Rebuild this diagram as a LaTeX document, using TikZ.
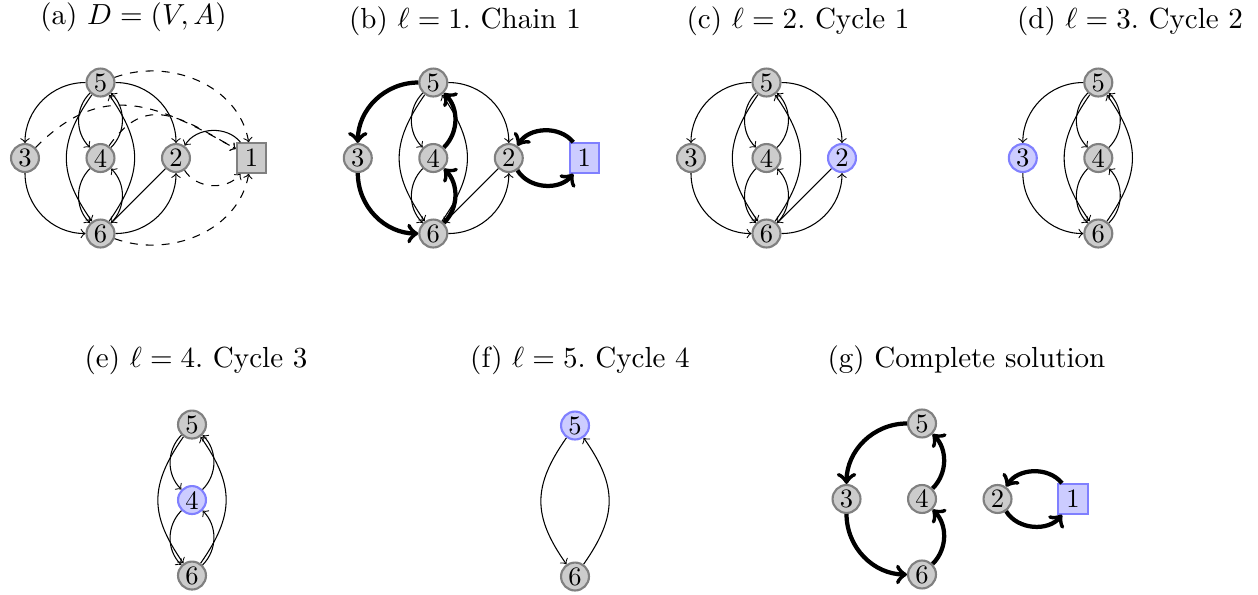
\documentclass[tikz,border=0pt]{standalone}
\usepackage{tikz}
\usetikzlibrary{positioning}
\definecolor{vgray}{RGB}{204,204,204}
\definecolor{vline}{RGB}{128,128,128}
\definecolor{pick}{RGB}{204,204,255}
\definecolor{pickline}{RGB}{128,128,255}

\begin{document}
\begin{tikzpicture}[
    node distance=1cm, on grid,
    vtx/.style={circle, draw=vline, fill=vgray, thick, minimum size=0.37cm, inner sep=0pt},
    sel/.style={vtx, draw=pickline, fill=pick},
    alt/.style={rectangle, draw=vline, fill=vgray, thick, minimum size=0.39cm, inner sep=0pt},
    altsel/.style={alt, draw=pickline, fill=pick},
    ar/.style={->},
    dar/.style={->, dashed},
    cyc/.style={->, ultra thick},
    wideL/.style={out=-125, in=125, looseness=1.2},
    wideR/.style={out=55, in=-55, looseness=1.2},
    subttl/.style={anchor=base, font=\fontsize{10.95}{13.6}\selectfont\frenchspacing}
]
\useasboundingbox (0,0) rectangle (16.662,-7.868);

% (a) the full graph
\node[subttl] (ta) at (1.768,-0.331) {(a) $D=(V,A)$};
\node[vtx] (a4) at (1.331,-2.093) {4};
\node[vtx, above=of a4] (a5) {5};
\node[vtx, below=of a4] (a6) {6};
\node[vtx, left=of a4] (a3) {3};
\node[vtx, right=of a4] (a2) {2};
\node[alt, right=of a2] (a1) {1};
\draw[ar] (a5) to[out=180,in=90] (a3);
\draw[ar] (a3) to[out=-90,in=180] (a6);
\draw[ar] (a5) to[out=0,in=90] (a2);
\draw[ar] (a6) to[out=0,in=-90] (a2);
\draw[ar] (a2) -- (a6);
\draw[ar] (a5) to[bend right=45] (a4);
\draw[ar] (a4) to[bend right=45] (a5);
\draw[ar] (a4) to[bend right=45] (a6);
\draw[ar] (a6) to[bend right=45] (a4);
\draw[ar] (a5) to[wideL] (a6);
\draw[ar] (a6) to[wideR] (a5);
\draw[ar] (a1) to[bend right=55] (a2);
\draw[dar] (a2) to[bend right=55] (a1);
\draw[dar] (a5) to[out=20,in=100] (a1);
\draw[dar] (a6) to[out=-20,in=-100] (a1);
\draw[dar] (a3) to[out=45,in=150,looseness=1.2] (a1);
\draw[dar] (a4) to[out=55,in=150,looseness=1.3] (a1);

% (b) chain 1
\node[subttl] (tb) at (6.159,-0.371) {(b) $\ell=1$. Chain 1};
\node[vtx] (b4) at (5.739,-2.093) {4};
\node[vtx, above=of b4] (b5) {5};
\node[vtx, below=of b4] (b6) {6};
\node[vtx, left=of b4] (b3) {3};
\node[vtx, right=of b4] (b2) {2};
\node[altsel, right=of b2] (b1) {1};
\draw[ar] (b5) to[out=0,in=90] (b2);
\draw[ar] (b6) to[out=0,in=-90] (b2);
\draw[ar] (b2) -- (b6);
\draw[ar] (b5) to[bend right=45] (b4);
\draw[ar] (b4) to[bend right=45] (b6);
\draw[ar] (b5) to[wideL] (b6);
\draw[ar] (b6) to[wideR] (b5);
\draw[cyc] (b5) to[out=180,in=90] (b3);
\draw[cyc] (b3) to[out=-90,in=180] (b6);
\draw[cyc] (b6) to[bend right=45] (b4);
\draw[cyc] (b4) to[bend right=45] (b5);
\draw[cyc] (b1) to[bend right=55] (b2);
\draw[cyc] (b2) to[bend right=55] (b1);

% (c) cycle 1
\node[subttl] (tc) at (10.57,-0.371) {(c) $\ell=2$. Cycle 1};
\node[vtx] (c4) at (10.152,-2.093) {4};
\node[vtx, above=of c4] (c5) {5};
\node[vtx, below=of c4] (c6) {6};
\node[vtx, left=of c4] (c3) {3};
\node[sel, right=of c4] (c2) {2};
\draw[ar] (c5) to[out=180,in=90] (c3);
\draw[ar] (c3) to[out=-90,in=180] (c6);
\draw[ar] (c5) to[out=0,in=90] (c2);
\draw[ar] (c6) to[out=0,in=-90] (c2);
\draw[ar] (c2) -- (c6);
\draw[ar] (c5) to[bend right=45] (c4);
\draw[ar] (c4) to[bend right=45] (c5);
\draw[ar] (c4) to[bend right=45] (c6);
\draw[ar] (c6) to[bend right=45] (c4);
\draw[ar] (c5) to[wideL] (c6);
\draw[ar] (c6) to[wideR] (c5);

% (d) cycle 2
\node[subttl] (td) at (14.967,-0.371) {(d) $\ell=3$. Cycle 2};
\node[vtx] (d4) at (14.547,-2.093) {4};
\node[vtx, above=of d4] (d5) {5};
\node[vtx, below=of d4] (d6) {6};
\node[sel, left=of d4] (d3) {3};
\draw[ar] (d5) to[out=180,in=90] (d3);
\draw[ar] (d3) to[out=-90,in=180] (d6);
\draw[ar] (d5) to[bend right=45] (d4);
\draw[ar] (d4) to[bend right=45] (d5);
\draw[ar] (d4) to[bend right=45] (d6);
\draw[ar] (d6) to[bend right=45] (d4);
\draw[ar] (d5) to[wideL] (d6);
\draw[ar] (d6) to[wideR] (d5);

% (e) cycle 3
\node[subttl] (te) at (2.596,-4.874) {(e) $\ell=4$. Cycle 3};
\node[sel] (e4) at (2.543,-6.623) {4};
\node[vtx, above=of e4] (e5) {5};
\node[vtx, below=of e4] (e6) {6};
\draw[ar] (e5) to[bend right=45] (e4);
\draw[ar] (e4) to[bend right=45] (e5);
\draw[ar] (e4) to[bend right=45] (e6);
\draw[ar] (e6) to[bend right=45] (e4);
\draw[ar] (e5) to[wideL] (e6);
\draw[ar] (e6) to[wideR] (e5);

% (f) cycle 4
\node[subttl] (tf) at (7.682,-4.874) {(f) $\ell=5$. Cycle 4};
\node[sel] (f5) at (7.616,-5.636) {5};
\node[vtx, below=2cm of f5] (f6) {6};
\draw[ar] (f5) to[wideL] (f6);
\draw[ar] (f6) to[wideR] (f5);

% (g) the solution
\node[subttl] (tg) at (12.80,-4.874) {(g) Complete solution};
\node[vtx] (g4) at (12.212,-6.609) {4};
\node[vtx, above=of g4] (g5) {5};
\node[vtx, below=of g4] (g6) {6};
\node[vtx, left=of g4] (g3) {3};
\node[vtx, right=of g4] (g2) {2};
\node[altsel, right=of g2] (g1) {1};
\draw[cyc] (g5) to[out=180,in=90] (g3);
\draw[cyc] (g3) to[out=-90,in=180] (g6);
\draw[cyc] (g6) to[bend right=45] (g4);
\draw[cyc] (g4) to[bend right=45] (g5);
\draw[cyc] (g1) to[bend right=55] (g2);
\draw[cyc] (g2) to[bend right=55] (g1);
\end{tikzpicture}
\end{document}
